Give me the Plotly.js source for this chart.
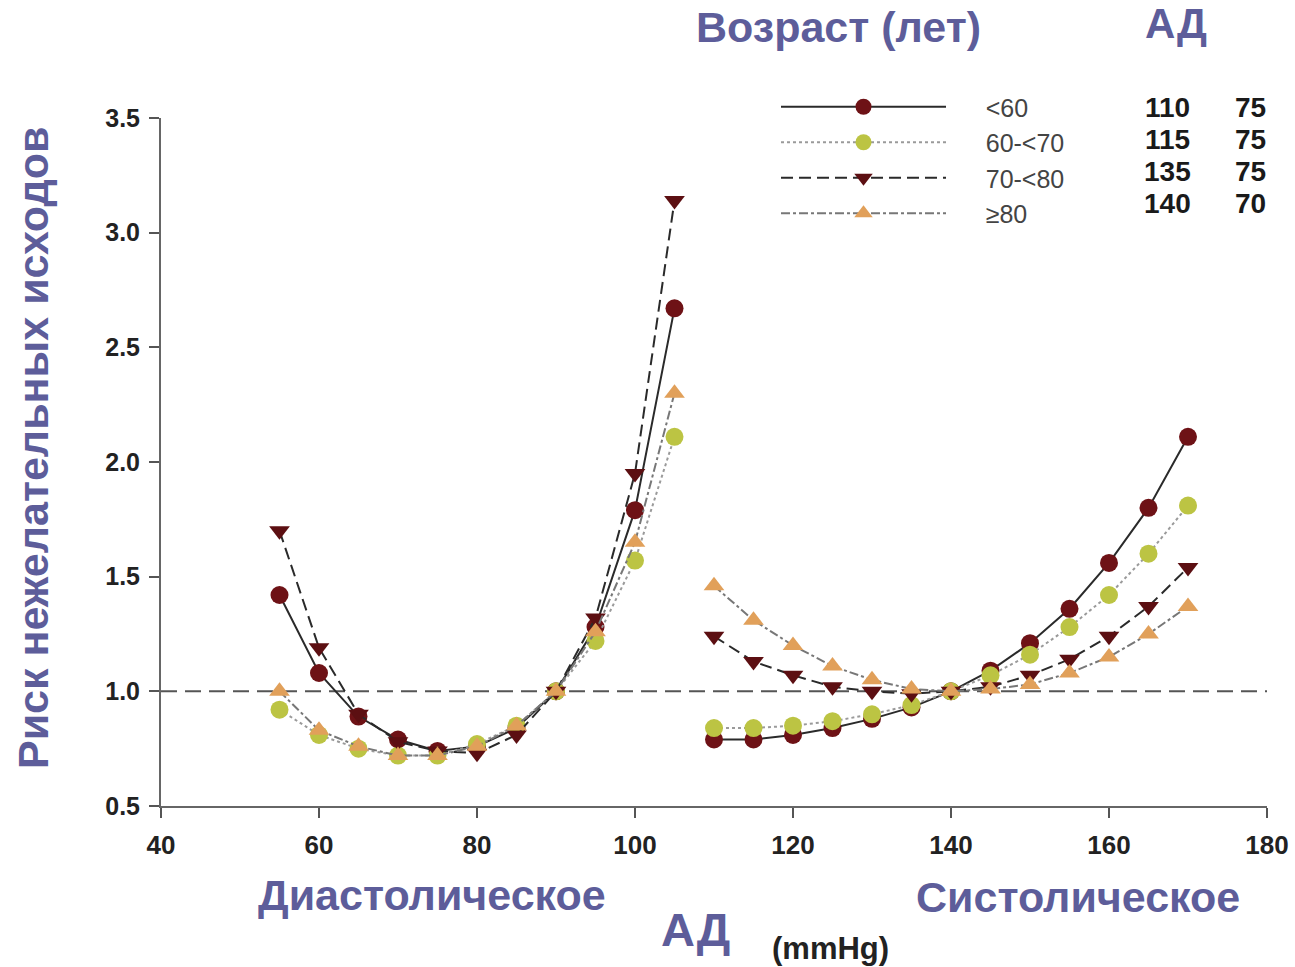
<!DOCTYPE html>
<html>
<head>
<meta charset="utf-8">
<script src="https://cdn.plot.ly/plotly-3.0.1.min.js"></script>
<style>html,body{margin:0;padding:0;background:#fff;}#chart{width:1295px;height:967px;}</style>
</head>
<body>
<div id="chart"></div>
<script>
// Diastolic and systolic BP (mmHg)
const dbpX = [55, 60, 65, 70, 75, 80, 85, 90, 95, 100, 105];
const sbpX = [110, 115, 120, 125, 130, 135, 140, 145, 150, 155, 160, 165, 170];

// Risk of adverse outcomes by age group
const groupNames = ["<60", "60-<70", "70-<80", "\u226580"];
const dbpLt60   = [1.42, 1.08, 0.89, 0.79, 0.74, 0.76, 0.84, 1.00, 1.28, 1.79, 2.67];
const dbp60to70 = [0.92, 0.81, 0.75, 0.72, 0.72, 0.77, 0.85, 1.00, 1.22, 1.57, 2.11];
const dbp70to80 = [1.70, 1.19, 0.90, 0.78, 0.74, 0.73, 0.81, 1.00, 1.32, 1.95, 3.14];
const dbpGe80   = [1.00, 0.83, 0.76, 0.72, 0.72, 0.76, 0.85, 1.00, 1.26, 1.65, 2.30];

const sbpLt60   = [0.79, 0.79, 0.81, 0.84, 0.88, 0.93, 1.00, 1.09, 1.21, 1.36, 1.56, 1.80, 2.11];
const sbp60to70 = [0.84, 0.84, 0.85, 0.87, 0.90, 0.94, 1.00, 1.07, 1.16, 1.28, 1.42, 1.60, 1.81];
const sbp70to80 = [1.24, 1.13, 1.07, 1.02, 1.00, 0.99, 1.00, 1.02, 1.07, 1.14, 1.24, 1.37, 1.54];
const sbpGe80   = [1.46, 1.31, 1.20, 1.11, 1.05, 1.01, 1.00, 1.01, 1.03, 1.08, 1.15, 1.25, 1.37];

// Optimal BP table (SBP, DBP) per age group
const optSbp = ["110", "115", "135", "140"];
const optDbp = ["75", "75", "75", "70"];

const yTicks = [0.5, 1.0, 1.5, 2.0, 2.5, 3.0, 3.5];
const xTicks = [40, 60, 80, 100, 120, 140, 160, 180];

const FONT = "Liberation Sans, Arial, sans-serif";
const purple = "#5d5d9a";
const xs = dbpX.concat([null], sbpX);
function join(a, b) { return a.concat([null], b); }

const styles = [
  {line: {color: "#2a2a2a", width: 2, dash: "solid"}, marker: {symbol: "circle", color: "#6e1216", size: 18}},
  {line: {color: "#9a9a9a", width: 2, dash: "dot"}, marker: {symbol: "circle", color: "#bcc443", size: 18}},
  {line: {color: "#2a2a2a", width: 2, dash: "12px,6px"}, marker: {symbol: "triangle-down", color: "#5c0f12", size: 18}},
  {line: {color: "#777777", width: 2, dash: "dashdot"}, marker: {symbol: "triangle-up", color: "#e1a05a", size: 18}}
];
const ys = [join(dbpLt60, sbpLt60), join(dbp60to70, sbp60to70), join(dbp70to80, sbp70to80), join(dbpGe80, sbpGe80)];

const traces = groupNames.map((n, i) => ({
  type: "scatter", mode: "lines+markers", name: "&nbsp;&nbsp;&nbsp;&nbsp;&nbsp;" + n, x: xs, y: ys[i],
  line: styles[i].line, marker: styles[i].marker, connectgaps: false,
  legendgroup: "g" + i
}));

const annotations = [
  {text: "<b>Возраст (лет)</b>", x: 838, y: 27, font: {size: 43, color: purple}},
  {text: "<b>АД</b>", x: 1176, y: 24, font: {size: 42, color: purple}},
  {text: "<b>Диастолическое</b>", x: 432, y: 895, font: {size: 43, color: purple}},
  {text: "<b>Систолическое</b>", x: 1078, y: 897, font: {size: 43, color: purple}},
  {text: "<b>АД</b>", x: 695, y: 930, font: {size: 47, color: purple}},
  {text: "<b>(mmHg)</b>", x: 830, y: 948, font: {size: 31, color: "#222"}},
].map(a => ({
  text: a.text, xref: "paper", yref: "paper",
  x: (a.x - 161) / 1106, y: (806 - a.y) / 688,
  xanchor: "center", yanchor: "middle", showarrow: false,
  font: Object.assign({family: FONT}, a.font)
}));

annotations.push({
  text: "<b>Риск нежелательных исходов</b>", xref: "paper", yref: "paper",
  x: (33 - 161) / 1106, y: (806 - 448) / 688, textangle: -90,
  xanchor: "center", yanchor: "middle", showarrow: false,
  font: {family: FONT, size: 43, color: purple}
});

const rowY = [107, 139, 171, 203];
optSbp.forEach((s, i) => {
  annotations.push({text: "<b>" + s + "</b>", xref: "paper", yref: "paper",
    x: (1167 - 161) / 1106, y: (806 - rowY[i]) / 688, xanchor: "center", yanchor: "middle",
    showarrow: false, font: {family: FONT, size: 28, color: "#1a1a1a"}});
  annotations.push({text: "<b>" + optDbp[i] + "</b>", xref: "paper", yref: "paper",
    x: (1250 - 161) / 1106, y: (806 - rowY[i]) / 688, xanchor: "center", yanchor: "middle",
    showarrow: false, font: {family: FONT, size: 28, color: "#1a1a1a"}});
});

const layout = {
  width: 1295, height: 967,
  margin: {l: 161, r: 28, t: 118, b: 161},
  paper_bgcolor: "#ffffff", plot_bgcolor: "#ffffff",
  showlegend: true,
  legend: {
    x: (776 - 161) / 1106, y: (806 - 84) / 688, xanchor: "left", yanchor: "top",
    bgcolor: "rgba(0,0,0,0)", itemwidth: 165, tracegroupgap: 0,
    font: {family: FONT, size: 25, color: "#444"}
  },
  xaxis: {
    range: [40, 180], tickvals: xTicks, ticks: "outside", ticklen: 10, tickwidth: 2, tickcolor: "#555",
    showline: true, linecolor: "#666", linewidth: 2, showgrid: false, zeroline: false,
    tickfont: {family: FONT, size: 26, color: "#222", weight: "bold"},
    ticklabelstandoff: 5
  },
  yaxis: {
    range: [0.5, 3.5], tickvals: yTicks, ticktext: yTicks.map(v => v.toFixed(1)),
    ticks: "outside", ticklen: 10, tickwidth: 2, tickcolor: "#555",
    showline: true, linecolor: "#666", linewidth: 2, showgrid: false, zeroline: false,
    tickfont: {family: FONT, size: 25, color: "#222", weight: "bold"},
    ticklabelstandoff: 4
  },
  shapes: [{type: "line", xref: "paper", yref: "y", x0: 0, x1: 1, y0: 1, y1: 1,
    line: {color: "#555", width: 2, dash: "16px,8px"}, layer: "below"}],
  annotations: annotations
};

Plotly.newPlot("chart", traces, layout, {displayModeBar: false, staticPlot: true});
</script>
</body>
</html>
